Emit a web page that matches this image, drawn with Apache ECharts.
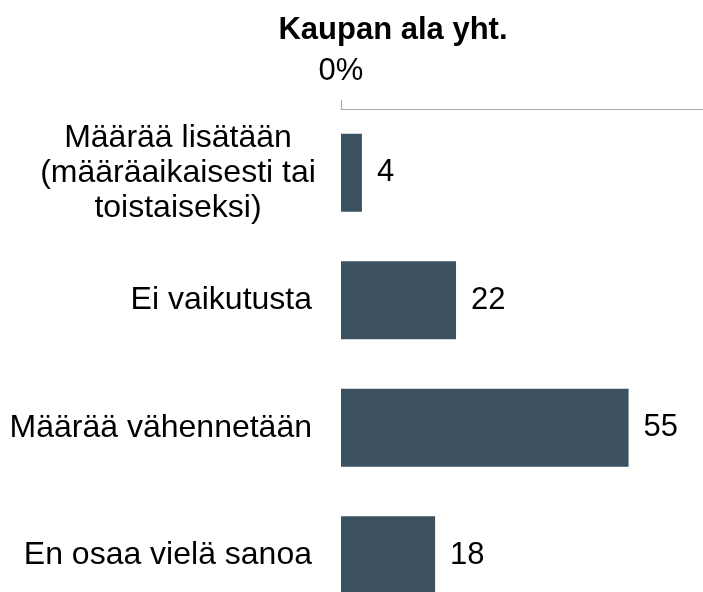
<!DOCTYPE html>
<html>
<head>
<meta charset="utf-8">
<script src="https://cdn.jsdelivr.net/npm/echarts@6/dist/echarts.min.js"></script>
<style>html,body{margin:0;padding:0;background:#fff}#c{width:703px;height:592px}</style>
</head>
<body>
<div id="c"></div>
<script>
var titleText = 'Kaupan ala yht.';
var categories = ['Määrää lisätään\n(määräaikaisesti tai\ntoistaiseksi)', 'Ei vaikutusta', 'Määrää vähennetään', 'En osaa vielä sanoa'];
var values = [4, 22, 55, 18];
var axisMin = 0, axisMax = 70;

var FONT = '"Liberation Sans", Arial, sans-serif';
var chart = echarts.init(document.getElementById('c'));
chart.setOption({
  animation: false,
  backgroundColor: '#ffffff',
  title: {
    text: titleText,
    left: 388, top: 10, textAlign: 'center',
    textStyle: { fontFamily: FONT, fontSize: 31, fontWeight: 'bold', color: '#000' }
  },
  grid: { left: 341, top: 109, width: 366, height: 510, containLabel: false, outerBoundsMode: 'none' },
  xAxis: {
    type: 'value', position: 'top', min: axisMin, max: axisMax, interval: 70,
    axisLine: { show: true, lineStyle: { color: '#a6a6a6', width: 1 } },
    axisTick: { show: true, length: 9, lineStyle: { color: '#a6a6a6' } },
    splitLine: { show: false },
    axisLabel: {
      margin: 22, fontFamily: FONT, fontSize: 31, color: '#000',
      formatter: function (v) { return v === 0 ? '0%' : ''; }
    }
  },
  yAxis: {
    type: 'category', inverse: true, data: categories,
    axisLine: { show: false }, axisTick: { show: false },
    axisLabel: {
      margin: 29, fontFamily: FONT, fontSize: 32, color: '#000', lineHeight: 35,
      formatter: function (v) {
        if (v.indexOf('\n') < 0) return v;
        return v.split('\n').map(function (l) { return '{c|' + l + '}'; }).join('\n');
      },
      rich: { c: { width: 268, align: 'center', fontFamily: FONT, fontSize: 32, lineHeight: 35, color: '#000' } }
    }
  },
  series: [{
    type: 'bar', data: values, barWidth: 78,
    itemStyle: { color: '#3d5261' },
    label: { show: true, position: 'right', distance: 15, fontFamily: FONT, fontSize: 31, color: '#000' }
  }]
});
</script>
</body>
</html>
